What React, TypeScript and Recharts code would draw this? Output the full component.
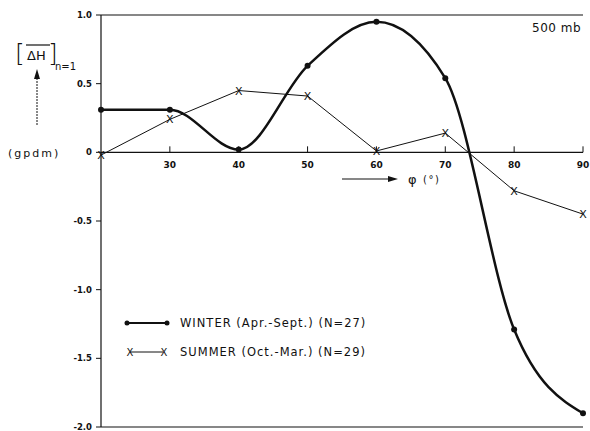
import React from "react";
import {
  LineChart,
  Line,
  XAxis,
  YAxis,
  ReferenceLine,
  ReferenceDot,
} from "recharts";

// latitude (deg) and first-harmonic height amplitude (gpdm) at 500 mb
const LATITUDE = [20, 30, 40, 50, 60, 70, 80, 90];
const WINTER = [0.31, 0.31, 0.02, 0.63, 0.95, 0.54, -1.29, -1.9];
const SUMMER = [-0.02, 0.24, 0.45, 0.41, 0.01, 0.14, -0.28, -0.45];
const Y_TICKS = [1, 0.5, 0, -0.5, -1, -1.5, -2];
const X_TICKS = [30, 40, 50, 60, 70, 80, 90];

const W = 590;
const H = 431;
const FONT = "'DejaVu Sans', sans-serif";
const INK = "#111";

const data = LATITUDE.map((lat, i) => ({
  lat,
  winter: WINTER[i],
  summer: SUMMER[i],
}));

function YTick({ x, y, payload }: any) {
  const v = payload.value as number;
  const label = v === 0 ? "0" : v.toFixed(1);
  return (
    <text
      x={x}
      y={y}
      dy={3}
      textAnchor="end"
      fontFamily={FONT}
      fontWeight="bold"
      fontSize={8.5}
      fill={INK}
    >
      {label}
    </text>
  );
}

// tick mark on the zero line plus its label underneath
function XTickMark({ cx, cy, value }: any) {
  return (
    <g>
      <line x1={cx} y1={cy} x2={cx} y2={cy - 6} stroke={INK} strokeWidth={1} />
      <text
        x={cx}
        y={cy + 16}
        textAnchor="middle"
        fontFamily={FONT}
        fontWeight="bold"
        fontSize={9}
        fill={INK}
      >
        {value}
      </text>
    </g>
  );
}

function WinterDot({ cx, cy }: any) {
  if (cx == null || cy == null) return null;
  return <circle cx={cx} cy={cy} r={3} fill={INK} />;
}

function SummerDot({ cx, cy }: any) {
  if (cx == null || cy == null) return null;
  return (
    <text
      x={cx}
      y={cy + 4}
      textAnchor="middle"
      fontFamily={FONT}
      fontSize={11}
      fill={INK}
    >
      X
    </text>
  );
}

function Annotations() {
  return (
    <svg
      width={W}
      height={H}
      style={{ position: "absolute", left: 0, top: 0, pointerEvents: "none" }}
      fontFamily={FONT}
      fill={INK}
    >
      <text x={532} y={32} fontSize={12} letterSpacing={0.5}>
        500 mb
      </text>

      {/* y-axis quantity: [overline ΔH] n=1 */}
      <text x={15} y={62} fontSize={25} fontWeight="300">
        [
      </text>
      <text x={27} y={60} fontSize={13}>
        ΔH
      </text>
      <line x1={26} y1={45} x2={50} y2={45} stroke={INK} strokeWidth={1.2} />
      <text x={48} y={62} fontSize={25} fontWeight="300">
        ]
      </text>
      <text x={55} y={70} fontSize={10}>
        n=1
      </text>
      <line x1={37} y1={125} x2={37} y2={76} stroke={INK} strokeWidth={1} strokeDasharray="2 1" />
      <polygon points="37,69 34,79 40,79" />
      <text x={8} y={157} fontSize={11} letterSpacing={2}>
        (gpdm)
      </text>

      {/* x-axis quantity */}
      <line x1={342} y1={179} x2={390} y2={179} stroke={INK} strokeWidth={1.2} />
      <polygon points="398,179 388,176 388,182" />
      <text x={408} y={184} fontSize={13}>
        φ
      </text>
      <text x={423} y={183} fontSize={10} letterSpacing={1.5}>
        (°)
      </text>

      {/* key */}
      <line x1={127} y1={323} x2={167} y2={323} stroke={INK} strokeWidth={2.2} />
      <circle cx={127} cy={323} r={2.5} />
      <circle cx={167} cy={323} r={2.5} />
      <text x={180} y={327} fontSize={11.5} letterSpacing={1}>
        WINTER (Apr.-Sept.)  (N=27)
      </text>
      <line x1={130} y1={352} x2={163} y2={352} stroke={INK} strokeWidth={1} />
      <text x={130} y={356} fontSize={10} textAnchor="middle">
        X
      </text>
      <text x={164} y={356} fontSize={10} textAnchor="middle">
        X
      </text>
      <text x={180} y={356} fontSize={11.5} letterSpacing={1}>
        SUMMER (Oct.-Mar.) (N=29)
      </text>
    </svg>
  );
}

export default function App() {
  return (
    <div
      style={{
        position: "absolute",
        left: 0,
        top: 0,
        width: W,
        height: H,
        background: "#fff",
      }}
    >
      <LineChart
        width={W}
        height={H}
        data={data}
        margin={{ top: 15, right: 7, bottom: 4, left: 0 }}
      >
        <XAxis dataKey="lat" type="number" domain={[20, 90]} hide />
        <YAxis
          type="number"
          domain={[-2, 1]}
          ticks={Y_TICKS}
          width={101}
          axisLine={{ stroke: INK, strokeWidth: 1.2 }}
          tickLine={{ stroke: INK }}
          tickSize={5}
          tickMargin={4}
          tick={<YTick />}
          interval={0}
        />
        <ReferenceLine y={1} stroke={INK} strokeWidth={1.2} />
        <ReferenceLine y={-2} stroke={INK} strokeWidth={1.2} />
        <ReferenceLine y={0} stroke={INK} strokeWidth={1.2} />
        {X_TICKS.map((v) => (
          <ReferenceDot
            key={v}
            x={v}
            y={0}
            shape={(p: any) => <XTickMark {...p} value={v} />}
          />
        ))}
        <Line
          dataKey="summer"
          type="linear"
          stroke={INK}
          strokeWidth={1}
          dot={<SummerDot />}
          isAnimationActive={false}
        />
        <Line
          dataKey="winter"
          type="monotone"
          stroke={INK}
          strokeWidth={2.5}
          dot={<WinterDot />}
          isAnimationActive={false}
        />
      </LineChart>
      <Annotations />
    </div>
  );
}
